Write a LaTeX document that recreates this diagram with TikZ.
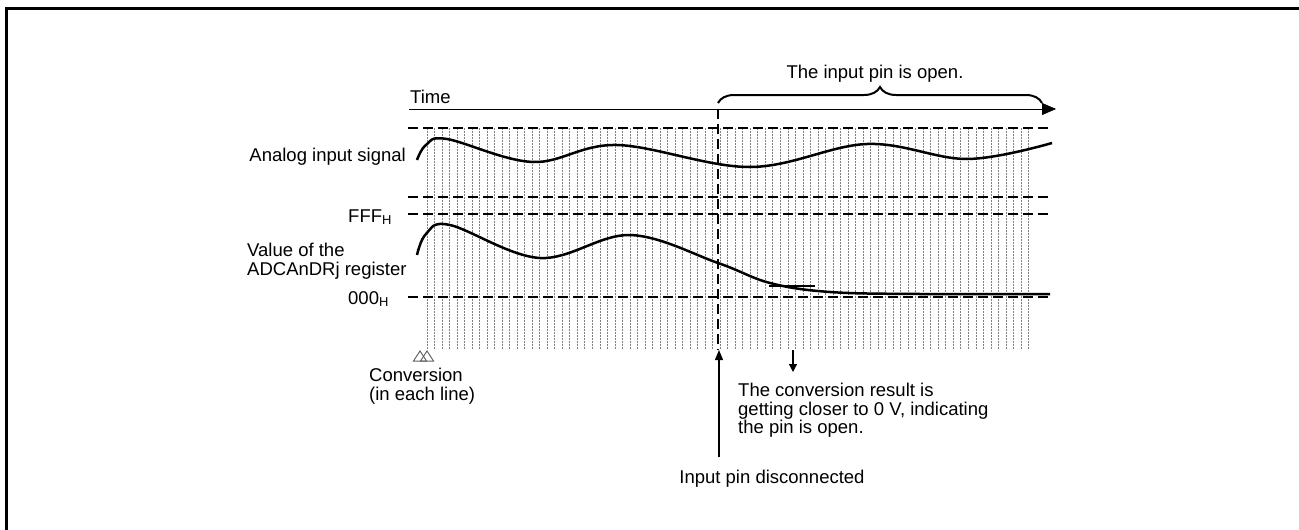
\documentclass[tikz,border=0pt]{standalone}
\usepackage{fontspec}
\setmainfont{Liberation Sans}
\usetikzlibrary{decorations.pathreplacing,arrows.meta}

\tikzset{
    lbl/.style={inner sep=0pt, font=\fontsize{18.5}{18.5}\selectfont},
    level/.style={line width=2pt, dash pattern=on 10pt off 5pt},
    wave/.style={line width=2.5pt},
    sample/.style={gray, line width=0.9pt, dash pattern=on 1.5pt off 1.5pt},
    convmark/.style={black!60, line width=1pt},
}

\begin{document}
\begin{tikzpicture}[x=1pt,y=-1pt]
\useasboundingbox (0,0) rectangle (1299,530);

% Frame
\draw[line width=3pt] (6,530) -- (6,8) -- (1299,8);

% Sampling lines
\foreach \i in {0,...,80}
{
    \draw[sample] (427+7.52*\i,128) -- (427+7.52*\i,350);
}

% Levels
\foreach \y in {128,197,214,297}
{
    \draw[level] (408,\y) -- (1052,\y);
}

% Time axis
\node[lbl,anchor=base west] (time) at (410,103) {Time};
\draw[-{Triangle[length=14pt,width=12pt]}] (409,109) -- (1056,109);

% Open pin
\draw[line width=2pt,decorate,decoration={brace,amplitude=16pt}] (718,103) -- (1042,103);
\node[lbl,anchor=base] (open) at (875,78) {The input pin is open.};

% Disconnection
\draw[level] (718,109) -- (718,350);
\coordinate (cut) at (719,350);
\node[lbl,anchor=base] (disc) at (772,483) {Input pin disconnected};
\draw[line width=1.3pt,-{Triangle[length=10pt,width=8pt]},shorten <=12pt] (cut |- disc.north) -- (cut);

% Analog input signal
\node[lbl,anchor=base east] (analog) at (406,161) {Analog input signal};
\draw[wave] plot[smooth,tension=0.6] coordinates {(417,160) (426,145) (447,139) (533,162) (617,145) (750,167) (867,144) (967,159) (1052,143)};

% Register value
\node[lbl,anchor=base west] (fff) at (348,222) {FFF\textsubscript{H}};
\node[lbl,anchor=base west] (zero) at (348,304) {000\textsubscript{H}};
\node[lbl,anchor=north west,align=left] (reg) at (247,243) {Value of the\\ADCAnDRj register};
\draw[wave] plot[smooth,tension=0.6] coordinates {(417,255) (426,234) (450,225) (540,258) (630,235) (718,263) (770,283) (830,292) (920,294) (1050,294)};
\draw[wave] (769,286) -- (815,286);

% Conversion marks
\foreach \x in {420,427}
{
    \draw[convmark] (\x-6.5,361) -- (\x,351) -- (\x+6.5,361) -- cycle;
}
\node[lbl,anchor=north west,align=left] (conv) at (369,368) {Conversion\\(in each line)};

% Result
\coordinate (fall) at (793,350);
\node[lbl,anchor=north west,align=left] (note) at (738,383) {The conversion result is\\getting closer to 0 V, indicating\\the pin is open.};
\draw[line width=1.3pt,-{Triangle[length=8pt,width=8pt]},shorten >=11pt] (fall) -- (fall |- note.north);

\end{tikzpicture}
\end{document}
